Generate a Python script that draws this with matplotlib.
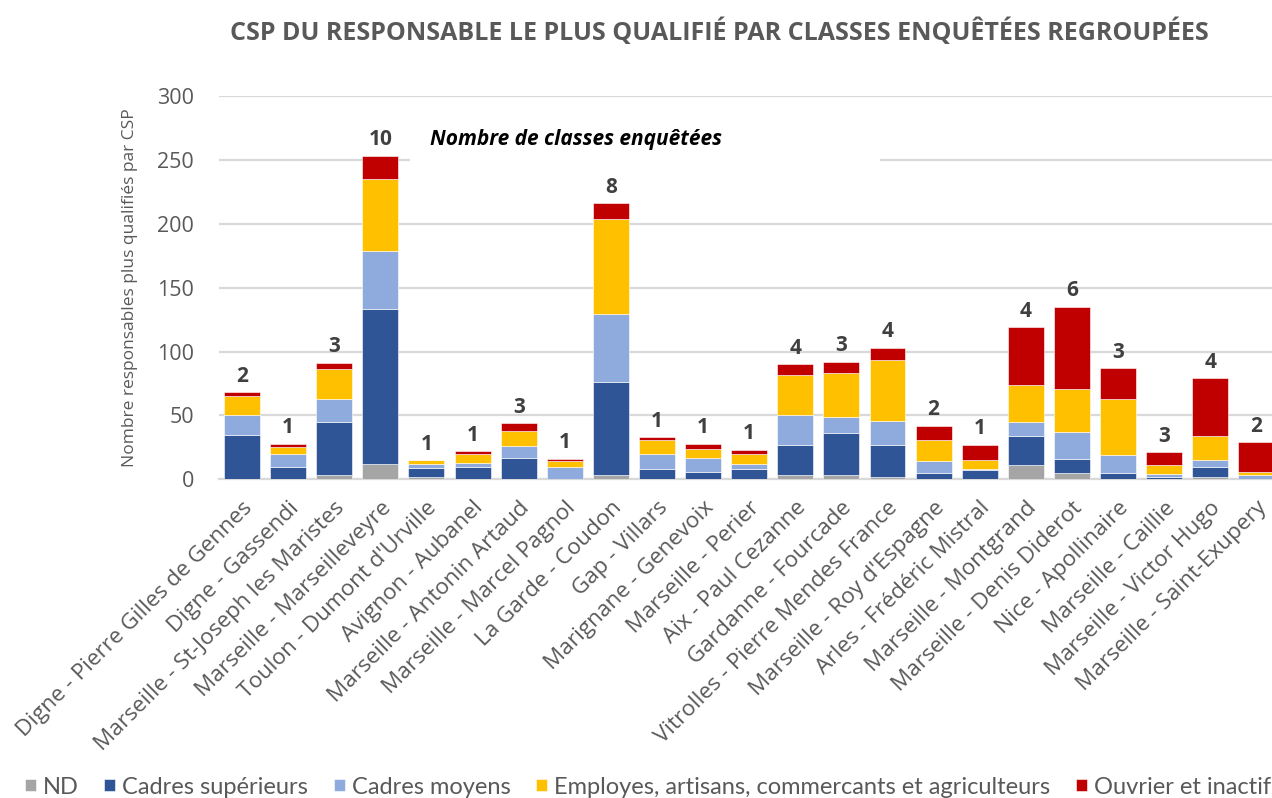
import matplotlib
matplotlib.use("Agg")
import matplotlib.pyplot as plt
from matplotlib.patches import Rectangle
import numpy as np

categories = [
    "Digne - Pierre Gilles de Gennes", "Digne - Gassendi", "Marseille - St-Joseph les Maristes",
    "Marseille - Marseilleveyre", "Toulon - Dumont d'Urville", "Avignon - Aubanel",
    "Marseille - Antonin Artaud", "Marseille - Marcel Pagnol", "La Garde - Coudon",
    "Gap - Villars", "Marignane - Genevoix", "Marseille - Perier", "Aix - Paul Cezanne",
    "Gardanne - Fourcade", "Vitrolles - Pierre Mendes France", "Marseille - Roy d'Espagne",
    "Arles - Frédéric Mistral", "Marseille - Montgrand", "Marseille - Denis Diderot",
    "Nice - Apollinaire", "Marseille - Caillie", "Marseille - Victor Hugo", "Marseille - Saint-Exupery",
]
nd        = [0, 0, 3, 12, 2, 0, 0, 0, 3, 0, 0, 0, 3, 3, 2, 0, 0, 11, 5, 0, 0, 2, 0]
cadres_sup = [35, 10, 42, 121, 7, 10, 17, 0, 73, 8, 6, 8, 24, 33, 25, 5, 7, 23, 11, 5, 2, 8, 0]
cadres_moy = [15, 10, 18, 46, 3, 3, 9, 10, 53, 12, 11, 4, 23, 13, 19, 9, 1, 11, 21, 14, 2, 5, 3]
employes   = [15, 5, 23, 56, 3, 7, 12, 4, 75, 11, 7, 8, 32, 34, 47, 17, 7, 29, 34, 44, 7, 19, 3]
ouvriers   = [3, 3, 5, 18, 0, 2, 6, 2, 12, 2, 4, 3, 8, 9, 10, 11, 12, 45, 64, 24, 10, 45, 23]
nb_classes = [2, 1, 3, 10, 1, 1, 3, 1, 8, 1, 1, 1, 4, 3, 4, 2, 1, 4, 6, 3, 3, 4, 2]

series = [
    ("ND", nd, "#A5A5A5"),
    ("Cadres supérieurs", cadres_sup, "#2F5597"),
    ("Cadres moyens", cadres_moy, "#8FAADC"),
    ("Employes, artisans, commercants et agriculteurs", employes, "#FFC000"),
    ("Ouvrier et inactif", ouvriers, "#C00000"),
]

W, H = 1272, 798
fig = plt.figure(figsize=(W / 100, H / 100), dpi=100)
ax = fig.add_axes([219 / W, (H - 479.3) / H, (W - 219) / W, 383.3 / H])

x = np.arange(len(categories))
bottom = np.zeros(len(categories))
handles = []
for name, vals, col in series:
    v = np.array(vals, dtype=float)
    b = ax.bar(x, v, 0.78, bottom=bottom, color=col, edgecolor="white", linewidth=0.4,
               label=name, zorder=3)
    handles.append(b)
    bottom += v

for xi, tot, n in zip(x, bottom, nb_classes):
    ax.annotate(str(n), (xi, tot), xytext=(0, 4), textcoords="offset points",
                ha="center", va="bottom", fontsize=15, fontweight="bold",
                color="#404040", family="Open Sans", zorder=5)

ax.set_xlim(-0.5, 22.34)
ax.set_ylim(0, 300)
ax.set_yticks([0, 50, 100, 150, 200, 250, 300])
ax.yaxis.grid(True, color="#D9D9D9", linewidth=1.6, zorder=0)
ax.set_axisbelow(True)
for s in ax.spines.values():
    s.set_visible(False)
ax.spines["bottom"].set_visible(True)
ax.spines["bottom"].set_color("#D9D9D9")
ax.spines["bottom"].set_linewidth(1.6)
ax.tick_params(axis="both", length=0)
ax.tick_params(axis="y", labelsize=15.5, labelcolor="#595959", pad=18)
for t in ax.get_yticklabels():
    t.set_family("Open Sans")

ax.set_xticks(x)
ax.set_xticklabels(categories, rotation=45, ha="right", rotation_mode="anchor",
                   fontsize=16.2, color="#595959", family="Open Sans")
ax.tick_params(axis="x", pad=13)

ax.set_ylabel("Nombre responsables plus qualifiés par CSP", fontsize=12.5, color="#595959",
              family="Open Sans", labelpad=14)

# white box behind annotation hiding the gridline
ax.add_patch(Rectangle(((410 - 219) / (W - 219), (479.3 - 165) / 383.3),
                       470 / (W - 219), 48 / 383.3, transform=ax.transAxes,
                       facecolor="white", edgecolor="none", zorder=1))
fig.text(430 / W, 1 - 140 / H, "Nombre de classes enquêtées", fontsize=15,
         fontweight="bold", style="italic", color="black", family="Open Sans",
         ha="left", va="center")

fig.text(719 / W, 1 - 32 / H,
         "CSP DU RESPONSABLE LE PLUS QUALIFIÉ PAR CLASSES ENQUÊTÉES REGROUPÉES",
         fontsize=18, fontweight="bold", color="#595959", family="Open Sans",
         ha="center", va="center")

fig.legend(handles=handles, labels=[s[0] for s in series], loc="center",
           bbox_to_anchor=(648 / W, 1 - 787 / H), ncol=5, frameon=False,
           labelcolor="#595959", handlelength=0.45, handleheight=0.45,
           handletextpad=0.3, columnspacing=1.1, borderpad=0.2,
           prop={"family": "Lato", "size": 17})

fig.savefig("out.png", dpi=100)
